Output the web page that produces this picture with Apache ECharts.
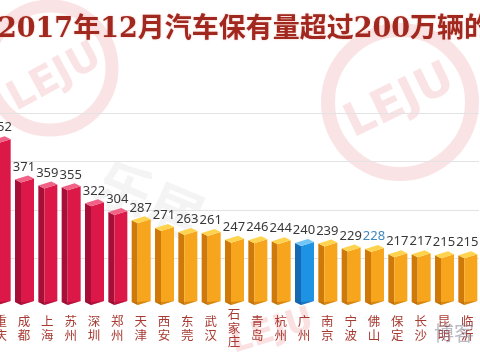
<!DOCTYPE html>
<html><head><meta charset="utf-8">
<script src="https://cdn.jsdelivr.net/npm/echarts@6/dist/echarts.min.js"></script>
<style>html,body{margin:0;padding:0;background:#fff}#c{width:480px;height:360px}</style>
</head><body><div id="c"></div>
<script>
const titleText = '2017年12月汽车保有量超过200万辆的城市';
const cities = ['重庆','成都','上海','苏州','深圳','郑州','天津','西安','东莞','武汉','石家庄','青岛','杭州','广州','南京','宁波','佛山','保定','长沙','昆明','临沂'];
const values = [452,371,359,355,322,304,287,271,263,261,247,246,244,240,239,229,228,217,217,215,215];
const groups = ['red','red','red','red','red','red','orange','orange','orange','orange','orange','orange','orange','blue','orange','orange','orange','orange','orange','orange','orange'];
const yMin = 100, yMax = 600, yStep = 100;

const palettes = {
  red:    {front:'#dc1849', side:'#a80f38', top:'#f06286', bottom:'#8e0c2f'},
  orange: {front:'#f7a51c', side:'#cf7a08', top:'#ffd34d', bottom:'#b86a05'},
  blue:   {front:'#1f93e3', side:'#1568b3', top:'#72c6f6', bottom:'#115a9c'}
};

const chart = echarts.init(document.getElementById('c'), null, {renderer:'canvas'});

function renderItem(params, api){
  const i = api.value(0), v = api.value(1);
  const t = api.coord([i, v]);
  const b = api.coord([i, yMin]);
  const cx = t[0];
  const yt = t[1];
  const yb = b[1] - 9;
  const pal = palettes[groups[i]];
  const L = cx - 9, F = cx - 3, R = cx + 10;
  const labelColor = cities[i] === '佛山' ? '#3f86bd' : '#383838';
  return {type:'group', children:[
    {type:'polygon', shape:{points:[[L,yt+4],[F,yt+7],[F,yb+7],[L,yb+4]]}, style:{fill:pal.side}},
    {type:'polygon', shape:{points:[[F,yt+7],[R,yt+3],[R,yb+3],[F,yb+7]]}, style:{fill:pal.front}},
    {type:'polygon', shape:{points:[[L,yt+4],[L+(R-F),yt],[R,yt+3],[F,yt+7]]}, style:{fill:pal.top}},
    {type:'polygon', shape:{points:[[L,yb+4],[F,yb+7],[R,yb+3],[F,yb+4]]}, style:{fill:pal.bottom, opacity:0.5}},
    {type:'text', x: cx, y: yt - 2, style:{text: String(v), align:'center', verticalAlign:'bottom', fill: labelColor, font:'13px "Noto Sans", sans-serif'}}
  ]};
}

const wm = 'rgba(226,90,100,0.17)';
chart.setOption({
  backgroundColor:'#ffffff',
  animation:false,
  title:{
    text: titleText, left: -7, top: 11,
    textStyle:{fontSize:27, fontWeight:'bold', color:'#a0281e', fontFamily:'"DejaVu Serif", "Noto Sans CJK SC", serif',
      textShadowColor:'rgba(240,170,160,0.8)', textShadowBlur:2}
  },
  graphic:[
    {type:'circle', shape:{cx:50, cy:68, r:62}, style:{fill:'none', stroke:wm, lineWidth:13}, z:-10},
    {type:'text', x:55, y:78, rotation:0.5, style:{text:'LEJU', font:'bold 40px "DejaVu Sans"', fill:wm, align:'center', verticalAlign:'middle'}, z:-10},
    {type:'circle', shape:{cx:400, cy:102, r:72}, style:{fill:'none', stroke:wm, lineWidth:14}, z:-10},
    {type:'text', x:400, y:102, rotation:0.45, style:{text:'LEJU', font:'bold 46px "DejaVu Sans"', fill:wm, align:'center', verticalAlign:'middle'}, z:-10},
    {type:'text', x:150, y:200, rotation:-0.4, style:{text:'乐居', font:'bold 56px "Noto Sans CJK SC"', fill:'rgba(150,150,150,0.1)', align:'center', verticalAlign:'middle'}, z:-10},
    {type:'text', x:272, y:332, rotation:0.3, style:{text:'LEJU', font:'bold 34px "DejaVu Sans"', fill:'rgba(226,60,70,0.16)', align:'center', verticalAlign:'middle'}, z:-10},
    {type:'text', x:454, y:333, style:{text:'博客', font:'20px "Noto Sans CJK SC"', fill:'rgba(120,120,140,0.5)', align:'center', verticalAlign:'middle'}, z:10}
  ],
  grid:{left:-11, width:490, top:64.5, bottom:53, outerBoundsMode:'none', containLabel:false},
  xAxis:{
    type:'category', data: cities,
    axisLine:{show:false}, axisTick:{show:false},
    axisLabel:{interval:0, margin:21, verticalAlign:'middle', color:'#a83a32', fontSize:12.5, lineHeight:13.5,
      fontFamily:'"Noto Sans CJK SC", sans-serif', hideOverlap:false,
      formatter: s => s.split('').join('\n')}
  },
  yAxis:{
    type:'value', min:yMin, max:yMax, interval:yStep,
    axisLine:{show:false}, axisTick:{show:false}, axisLabel:{show:false},
    splitLine:{show:true, showMinLine:false, showMaxLine:false, lineStyle:{color:'#e3e3e3', width:1}}
  },
  series:[{
    type:'custom', renderItem: renderItem,
    data: cities.map((c, i) => [i, values[i]]),
    clip:false
  }]
});
</script></body></html>
